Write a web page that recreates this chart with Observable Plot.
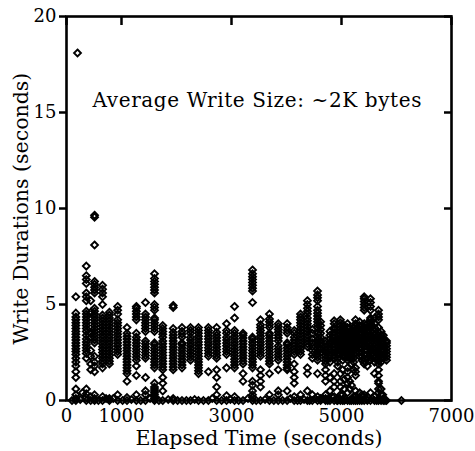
<!DOCTYPE html>
<html>
<head>
<meta charset="utf-8">
<script src="https://cdn.jsdelivr.net/npm/d3@7"></script>
<script src="https://cdn.jsdelivr.net/npm/@observablehq/plot@0.6"></script>
<style>
  html, body { margin: 0; padding: 0; background: #fff; }
  #chart { width: 475px; height: 451px; }
</style>
</head>
<body>
<div id="chart"></div>
<script>
// ---- Data ----
const title = "Average Write Size: ~2K bytes";
const xLabel = "Elapsed Time (seconds)";
const yLabel = "Write Durations (seconds)";
const xTicks = [0, 1000, 3000, 5000, 7000];
const yTicks = [0, 5, 10, 15, 20];

// elapsed time of each burst of writes (seconds)
const times = [
  170, 200, 360, 440, 510, 655, 780, 930, 1100, 1270,
  1436, 1600, 1750, 1940, 2100, 2255, 2400, 2580, 2730, 2910,
  3055, 3210, 3382, 3527, 3690, 3850, 4012, 4140, 4255, 4380,
  4470, 4564, 4710, 4790, 4867, 4980, 5050, 5110, 5180, 5255,
  5330, 5413, 5527, 5600, 5673, 5818, 6090,
  4620, 4930, 5020, 5150, 5220, 5370, 5470, 5720, 5760
];
// write durations observed at each of those times (seconds)
const durations = [
  [0, 0.1, 0.3, 0.6, 1.2, 1.5, 1.8, 2.0, 2.2, 2.4, 2.55, 2.7, 2.85, 3.0, 3.15, 3.3, 3.45, 3.6, 3.75, 3.9, 4.05, 4.2, 4.35, 4.55, 5.4],
  [18.1],
  [0, 0.15, 0.35, 0.6, 2.2, 2.45, 2.6, 2.75, 2.9, 3.05, 3.2, 3.4, 3.6, 3.75, 3.9, 4.05, 4.2, 4.35, 4.5, 4.65, 5.2, 5.4, 5.6, 6.1, 6.3, 6.5, 7.0],
  [0, 0.2, 1.6, 1.9, 2.3, 2.6, 3.3, 3.5, 4.6, 5.2],
  [0, 0.1, 0.3, 1.5, 1.8, 2.0, 2.3, 3.0, 3.15, 3.3, 3.45, 3.6, 3.75, 3.9, 4.05, 4.2, 4.35, 4.5, 4.65, 4.8, 5.6, 5.75, 5.9, 6.05, 6.2, 8.1, 9.55, 9.65],
  [0, 0.2, 1.7, 1.9, 2.05, 2.2, 2.35, 2.5, 2.65, 2.8, 2.95, 3.1, 3.25, 3.4, 3.55, 3.7, 3.85, 4.0, 4.15, 4.3, 4.45, 5.0, 5.4, 5.6, 5.8, 6.0],
  [0, 0.1, 1.9, 2.05, 2.2, 2.35, 2.5, 2.65, 2.8, 2.95, 3.1, 3.25, 3.4, 3.55, 3.7, 3.85, 4.0, 4.15, 4.3, 4.45, 4.6],
  [0, 0.3, 2.4, 2.55, 2.7, 2.85, 3.0, 3.15, 3.3, 3.45, 3.6, 3.75, 3.9, 4.05, 4.2, 4.5, 4.7, 4.9],
  [0, 0.15, 1.0, 1.4, 1.55, 1.7, 1.85, 2.0, 2.15, 2.3, 2.45, 2.6, 2.75, 2.9, 3.05, 3.2, 3.35, 3.5, 3.8],
  [0, 0.3, 1.3, 1.8, 2.1, 2.25, 2.4, 2.55, 2.7, 2.85, 3.0, 3.15, 3.3, 3.5, 4.2, 4.35, 4.5, 4.65, 4.8, 4.9],
  [0, 0.3, 0.5, 1.2, 2.2, 2.35, 2.5, 2.65, 2.8, 2.95, 3.1, 3.6, 3.75, 3.9, 4.05, 4.2, 4.35, 4.5, 5.1],
  [0, 0.1, 0.2, 0.3, 0.4, 0.5, 0.6, 0.7, 0.9, 1.7, 1.85, 2.0, 2.15, 2.3, 2.45, 2.6, 2.75, 2.9, 3.0, 3.6, 3.75, 3.9, 4.05, 4.2, 4.3, 4.7, 4.85, 5.0, 5.6, 5.75, 5.9, 6.05, 6.2, 6.35, 6.6],
  [0, 0.5, 0.9, 1.2, 1.6, 1.75, 1.9, 2.05, 2.2, 2.35, 2.5, 2.65, 2.8, 2.95, 3.1, 3.3, 3.45, 3.6, 3.75, 3.9],
  [0, 0.1, 1.6, 1.75, 1.9, 2.05, 2.2, 2.35, 2.5, 2.65, 2.8, 2.95, 3.1, 3.25, 3.4, 3.55, 3.75, 4.85, 4.95],
  [0, 1.7, 1.85, 2.0, 2.15, 2.3, 2.45, 2.6, 2.75, 2.9, 3.0, 3.3, 3.45, 3.6, 3.8],
  [0, 2.1, 2.25, 2.4, 2.55, 2.7, 2.85, 3.0, 3.15, 3.3, 3.5, 3.65, 3.8],
  [0, 1.4, 1.55, 1.7, 1.85, 2.0, 2.15, 2.3, 2.45, 2.6, 2.75, 2.9, 3.05, 3.2, 3.35, 3.5, 3.65, 3.8],
  [0, 1.5, 2.3, 2.45, 2.6, 2.75, 2.9, 3.05, 3.2, 3.35, 3.5, 3.65, 3.8],
  [0, 0.3, 0.7, 1.2, 1.6, 2.2, 2.35, 2.5, 2.65, 2.8, 2.95, 3.1, 3.25, 3.4, 3.55, 3.8],
  [0, 0.25, 1.7, 2.4, 2.55, 2.7, 2.85, 3.0, 3.15, 3.3, 3.5, 3.65, 4.0],
  [0, 0.2, 1.7, 1.85, 2.0, 2.15, 2.3, 2.45, 2.6, 2.75, 2.9, 3.05, 3.2, 3.35, 3.5, 3.65, 4.3, 4.9],
  [0, 1.0, 1.4, 1.9, 2.05, 2.2, 2.35, 2.5, 2.65, 2.8, 2.95, 3.1, 3.25, 3.4, 3.5],
  [0, 0.15, 0.3, 0.5, 0.8, 1.0, 1.7, 1.85, 2.0, 2.15, 2.3, 2.45, 2.6, 2.75, 2.9, 3.05, 3.2, 3.3, 5.1, 5.7, 5.85, 6.0, 6.15, 6.3, 6.45, 6.6, 6.8],
  [0, 0.7, 1.0, 1.3, 1.6, 2.3, 2.45, 2.6, 2.75, 2.9, 3.05, 3.2, 3.35, 3.5, 3.65, 3.8, 3.95, 4.2],
  [0, 0.3, 1.4, 1.9, 2.05, 2.2, 2.35, 2.5, 2.65, 2.8, 2.95, 3.1, 3.25, 3.4, 3.5, 3.8, 3.95, 4.1, 4.25, 4.5],
  [0, 0.3, 0.5, 1.6, 2.1, 2.25, 2.4, 2.55, 2.7, 2.85, 3.1, 3.25, 3.4, 3.55, 3.7, 3.85, 4.0],
  [0, 0.5, 1.6, 1.7, 1.85, 2.0, 2.15, 2.3, 2.45, 2.6, 2.75, 2.9, 3.0, 3.5, 3.65, 3.8, 4.0],
  [0, 0.2, 0.9, 1.2, 1.5, 1.9, 2.4, 2.55, 2.7, 2.85, 3.0, 3.15, 3.3, 3.5, 3.65],
  [0, 0.3, 2.4, 2.55, 2.7, 2.85, 3.0, 3.15, 3.3, 3.45, 3.6, 3.75, 3.9, 4.05, 4.2, 4.35, 4.5],
  [0, 0.5, 1.4, 1.7, 2.8, 2.95, 3.1, 3.25, 3.4, 3.55, 3.7, 3.85, 4.0, 4.15, 4.3, 4.5, 4.65, 4.8, 5.0, 5.2],
  [0, 0.3, 2.2, 2.4, 2.6, 2.8, 3.0, 3.2, 3.5, 3.7],
  [0, 0.2, 1.4, 2.1, 2.25, 2.4, 2.55, 2.7, 2.85, 3.0, 3.15, 3.3, 3.5, 3.8, 3.95, 4.1, 4.25, 4.4, 4.55, 4.7, 4.9, 5.2, 5.35, 5.5, 5.7],
  [0, 0.1, 0.3, 1.0, 1.3, 1.6, 1.9, 2.05, 2.2, 2.35, 2.5, 2.65, 2.8, 2.95, 3.1],
  [0, 0.5, 1.2, 2.0, 2.2, 2.4, 2.6, 2.8, 3.0, 3.2, 3.4, 3.6],
  [0, 0.2, 0.7, 1.0, 1.4, 2.2, 2.35, 2.5, 2.65, 2.8, 2.95, 3.1, 3.25, 3.4, 3.55, 3.7, 3.8, 4.0, 4.15],
  [0, 0.3, 0.7, 1.0, 1.4, 2.4, 2.55, 2.7, 2.85, 3.0, 3.15, 3.3, 3.45, 3.6, 3.75, 3.9, 4.05, 4.2],
  [0, 0.6, 1.1, 2.3, 2.5, 2.7, 2.9, 3.1, 3.3, 3.5, 3.7, 3.9],
  [0, 0.4, 0.9, 1.2, 1.5, 1.7, 2.1, 2.25, 2.4, 2.55, 2.7, 2.85, 3.0, 3.15, 3.3, 3.45, 3.6, 3.8, 4.0],
  [0, 0.8, 1.9, 2.2, 2.4, 2.6, 2.8, 3.0, 3.2, 3.4, 3.6],
  [0, 0.2, 0.5, 1.3, 1.5, 1.7, 2.8, 2.95, 3.1, 3.25, 3.4, 3.55, 3.7, 3.85, 4.0, 4.2],
  [0, 0.4, 2.3, 2.5, 2.7, 2.9, 3.1, 3.3, 3.5, 3.7, 3.9, 4.1],
  [0, 0.3, 1.9, 2.05, 2.2, 2.4, 2.8, 2.95, 3.1, 3.25, 3.4, 3.55, 3.7, 3.85, 4.0, 4.7, 4.85, 5.0, 5.15, 5.3, 5.4],
  [0, 0.4, 2.1, 2.25, 2.4, 2.55, 2.7, 2.85, 3.0, 3.15, 3.3, 3.45, 3.6, 3.75, 3.9, 4.05, 4.2, 4.3, 4.7, 4.9, 5.1, 5.3],
  [0, 0.2, 1.4, 2.0, 2.2, 2.4, 2.6, 2.8, 3.0, 3.2, 3.4, 3.6, 3.8, 4.0, 4.3],
  [0, 0.4, 0.6, 0.9, 1.0, 1.3, 1.6, 1.9, 2.05, 2.2, 2.35, 2.5, 2.65, 2.8, 2.95, 3.1, 3.25, 3.4, 3.55, 3.8, 4.2, 4.35, 4.5, 4.7],
  [0, 2.1, 2.25, 2.4, 2.55, 2.7, 2.85, 3.0, 3.1],
  [0],
  [0, 0.1, 2.5, 2.7, 2.9, 3.1, 3.3, 3.5, 3.7, 3.9, 4.1],
  [0, 0.1, 1.8, 2.0, 2.2, 2.4, 2.6, 2.8, 3.0, 3.2, 3.4],
  [0, 0.3, 1.6, 2.1, 2.3, 2.5, 2.7, 2.9, 3.1, 3.3, 3.5, 3.7],
  [0, 0.6, 1.0, 2.2, 2.4, 2.6, 2.8, 3.0, 3.2, 3.4, 3.8],
  [0, 0.2, 1.6, 2.0, 2.2, 2.4, 2.6, 2.8, 3.0, 3.2, 3.4, 3.6, 3.8],
  [0, 0.3, 2.1, 2.3, 2.5, 2.7, 2.9, 3.1, 3.3, 3.5, 3.7, 3.9],
  [0, 0.2, 1.8, 2.2, 2.4, 2.6, 2.8, 3.0, 3.2, 3.4, 3.6, 3.8, 4.0],
  [0, 0.3, 0.6, 2.0, 2.2, 2.4, 2.6, 2.8, 3.0, 3.2, 3.4, 3.6],
  [0, 0.1, 2.2, 2.4, 2.6, 2.8, 3.0, 3.2, 3.4]
];
// extra near-zero writes between the bursts
const zeroRowTimes = [
  100, 250, 290, 580, 720, 850, 1020, 1180, 1350, 1520, 1680, 1850, 2020, 2180, 2330, 2490, 2650, 2820,
  2980, 3130, 3300, 3450, 3610, 3770, 3930, 4070, 4200, 4320, 4420, 4520, 4660, 4750, 4830, 4920,
  5070, 5200, 5290, 5380, 5470, 5560, 5640, 5750, 5790
];
const zeroRowValues = [
  0, 0.05, 0.4, 0, 0.1, 0.1, 0, 0.05, 0, 0.1, 0, 0.05, 0, 0, 0.05, 0, 0.1, 0,
  0.05, 0, 0.1, 0, 0.05, 0, 0, 0.1, 0, 0.05, 0, 0.1, 0.1, 0, 0.2, 0,
  0.05, 0.1, 0, 0.2, 0.05, 0.1, 0, 0.3, 0
];

// ---- build table ----
const points = [];
times.forEach((t, i) => durations[i].forEach(d => points.push({t, d})));
zeroRowTimes.forEach((t, i) => points.push({t, d: zeroRowValues[i]}));

const font = "DejaVu Serif, serif";
const plot = Plot.plot({
  width: 475,
  height: 451,
  marginLeft: 66,
  marginRight: 24,
  marginTop: 16,
  marginBottom: 51,
  style: {fontFamily: font, fontSize: "18px", background: "#fff", color: "#000"},
  x: {domain: [0, 7000]},
  y: {domain: [0, 20]},
  marks: [
    Plot.dot(points, {x: "t", y: "d", symbol: "diamond2", r: 3.1, stroke: "#000", strokeWidth: 1.9, fill: "none"}),
    Plot.axisY({anchor: "left", ticks: yTicks, tickSize: 7, tickPadding: 3, strokeWidth: 2.5, tickFormat: d3.format("d"),
      label: null}),
    Plot.axisY({anchor: "right", ticks: yTicks, tickSize: 8, dx: -8, strokeWidth: 2.5, tickFormat: () => "", label: null}),
    Plot.axisX({anchor: "bottom", ticks: xTicks, tickSize: 0, tickPadding: 9, strokeWidth: 2.5, tickFormat: d3.format("d"),
      label: null}),
    Plot.axisX({anchor: "top", ticks: xTicks, tickSize: 8, dy: 8, strokeWidth: 2.5, tickFormat: () => "", label: null}),
    Plot.frame({stroke: "#000", strokeWidth: 2.6}),
    Plot.text([xLabel], {frameAnchor: "bottom", dy: 44, fontSize: 20.5, lineAnchor: "bottom"}),
    Plot.text([yLabel], {frameAnchor: "left", dx: -45, rotate: -90, textAnchor: "middle", fontSize: 20.5}),
    Plot.text([title], {frameAnchor: "top-left", dx: 26, dy: 76, textAnchor: "start", fontSize: 20, className: "annot"})
  ]
});
document.getElementById("chart").appendChild(plot);
d3.select(plot).selectAll(".annot text").attr("textLength", 329).attr("lengthAdjust", "spacing");
</script>
</body>
</html>
